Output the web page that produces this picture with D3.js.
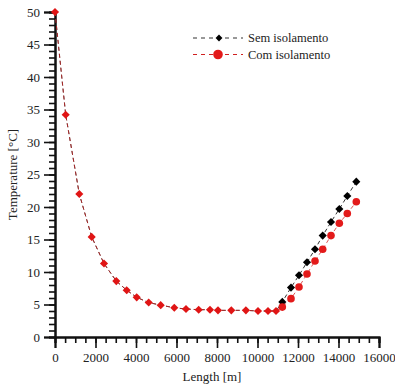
<!DOCTYPE html>
<meta charset="utf-8">
<style>
  body { margin: 0; background: #fff; }
  svg text { font-family: "Times New Roman", serif !important; fill: #222; }
</style>
<body>
<script src="https://d3js.org/d3.v7.min.js"></script>
<script>
  // lengths [m] where both series coincide
  const commonX = [0, 528, 1200, 1812, 2420, 3027, 3541, 4035, 4627, 5220, 5891, 6469, 7096, 7654, 8049, 8706, 9427, 10025, 10519, 10914];
  const commonT = [50, 34.2, 22.0, 15.4, 11.3, 8.6, 7.2, 6.1, 5.3, 4.9, 4.5, 4.3, 4.2, 4.2, 4.1, 4.1, 4.1, 4.0, 4.0, 4.0];
  // tail, where they split
  const tailX = [11225, 11654, 12049, 12444, 12840, 13220, 13630, 14040, 14435, 14879];
  const semT = [5.4, 7.6, 9.5, 11.5, 13.5, 15.6, 17.7, 19.7, 21.7, 23.9];
  const comT = [4.6, 5.9, 7.7, 9.7, 11.7, 13.5, 15.6, 17.5, 19.0, 20.8];

  const seriesNames = ["Sem isolamento", "Com isolamento"];
  const xTicks = d3.range(0, 16001, 2000);
  const yTicks = d3.range(0, 51, 5);

  const width = 395, height = 387;
  const margin = {top: 12, right: 16, bottom: 50, left: 55};

  const svg = d3.select("body").append("svg")
    .attr("width", width)
    .attr("height", height);

  const x = d3.scaleLinear().domain([0, 16000]).range([margin.left, width - margin.right]);
  const y = d3.scaleLinear().domain([0, 50]).range([height - margin.bottom, margin.top]);

  const common = commonX.map((d, i) => ({x: d, t: commonT[i]}));
  const sem = common.concat(tailX.map((d, i) => ({x: d, t: semT[i]})));
  const com = common.concat(tailX.map((d, i) => ({x: d, t: comT[i]})));

  // minor ticks first, then major
  const xAxisG = svg.append("g").attr("transform", `translate(0,${y(0)})`);
  xAxisG.call(d3.axisBottom(x).tickValues(d3.range(0, 16001, 500)).tickSize(6).tickFormat(""));
  xAxisG.append("g").call(d3.axisBottom(x).tickValues(xTicks).tickSize(11).tickFormat(d => d));
  const yAxisG = svg.append("g").attr("transform", `translate(${x(0)},0)`);
  yAxisG.call(d3.axisLeft(y).tickValues(d3.range(0, 51, 1)).tickSize(6).tickFormat(""));
  yAxisG.append("g").call(d3.axisLeft(y).tickValues(yTicks).tickSize(11).tickFormat(d => d));

  svg.selectAll("g").attr("font-family", null);
  svg.selectAll(".domain").attr("stroke", "#111").attr("stroke-width", 2);
  svg.selectAll(".tick line").attr("stroke", "#111").attr("stroke-width", 1.6);
  svg.selectAll(".tick text")
    .style("font-size", "13px").attr("fill", "#333");
  xAxisG.selectAll(".tick text").attr("y", 16);
  yAxisG.selectAll(".tick text").attr("x", -15);

  svg.append("text")
    .attr("x", (x(0) + x(16000)) / 2 - 5)
    .attr("y", 381)
    .attr("text-anchor", "middle")
    .style("font-size", "13px")
    .text("Length [m]");

  svg.append("text")
    .attr("transform", `translate(17,${(y(0) + y(50)) / 2}) rotate(-90)`)
    .attr("text-anchor", "middle")
    .style("font-size", "13px")
    .text("Temperature [°C]");

  const line = d3.line().x(d => x(d.x)).y(d => y(d.t));

  svg.append("path").datum(sem)
    .attr("d", line)
    .attr("fill", "none").attr("stroke", "#333")
    .attr("stroke-width", 1).attr("stroke-dasharray", "4,3");
  svg.append("path").datum(com)
    .attr("d", line)
    .attr("fill", "none").attr("stroke", "#d02020").attr("stroke-opacity", 0.75)
    .attr("stroke-width", 1).attr("stroke-dasharray", "4,3");

  const diamond = d3.symbol().type(d3.symbolDiamond2).size(42);

  svg.append("g").selectAll("path")
    .data(sem.slice(common.length))
    .join("path")
    .attr("d", diamond)
    .attr("transform", d => `translate(${x(d.x)},${y(d.t)})`)
    .attr("fill", "#000");

  svg.append("g").selectAll("circle")
    .data(com.slice(common.length))
    .join("circle")
    .attr("cx", d => x(d.x)).attr("cy", d => y(d.t))
    .attr("r", 3.8)
    .attr("fill", "#e31a1a");

  svg.append("g").selectAll("path")
    .data(common)
    .join("path")
    .attr("d", diamond)
    .attr("transform", d => `translate(${x(d.x)},${y(d.t)})`)
    .attr("fill", "#e01515");

  // legend
  const legend = svg.append("g");
  seriesNames.forEach((name, i) => {
    const ly = 38 + i * 16.5;
    legend.append("line")
      .attr("x1", 193).attr("x2", 243).attr("y1", ly).attr("y2", ly)
      .attr("stroke", i === 0 ? "#333" : "#d02020")
      .attr("stroke-width", 1).attr("stroke-dasharray", "4,4");
    if (i === 0) {
      legend.append("path")
        .attr("d", d3.symbol().type(d3.symbolDiamond2).size(30)())
        .attr("transform", `translate(219,${ly})`)
        .attr("fill", "#000");
    } else {
      legend.append("circle")
        .attr("cx", 218).attr("cy", ly).attr("r", 4.8)
        .attr("fill", "#e31a1a");
    }
    legend.append("text")
      .attr("x", 248).attr("y", ly + 4)
      .style("font-size", "12.5px")
      .text(name);
  });
</script>
</body>
